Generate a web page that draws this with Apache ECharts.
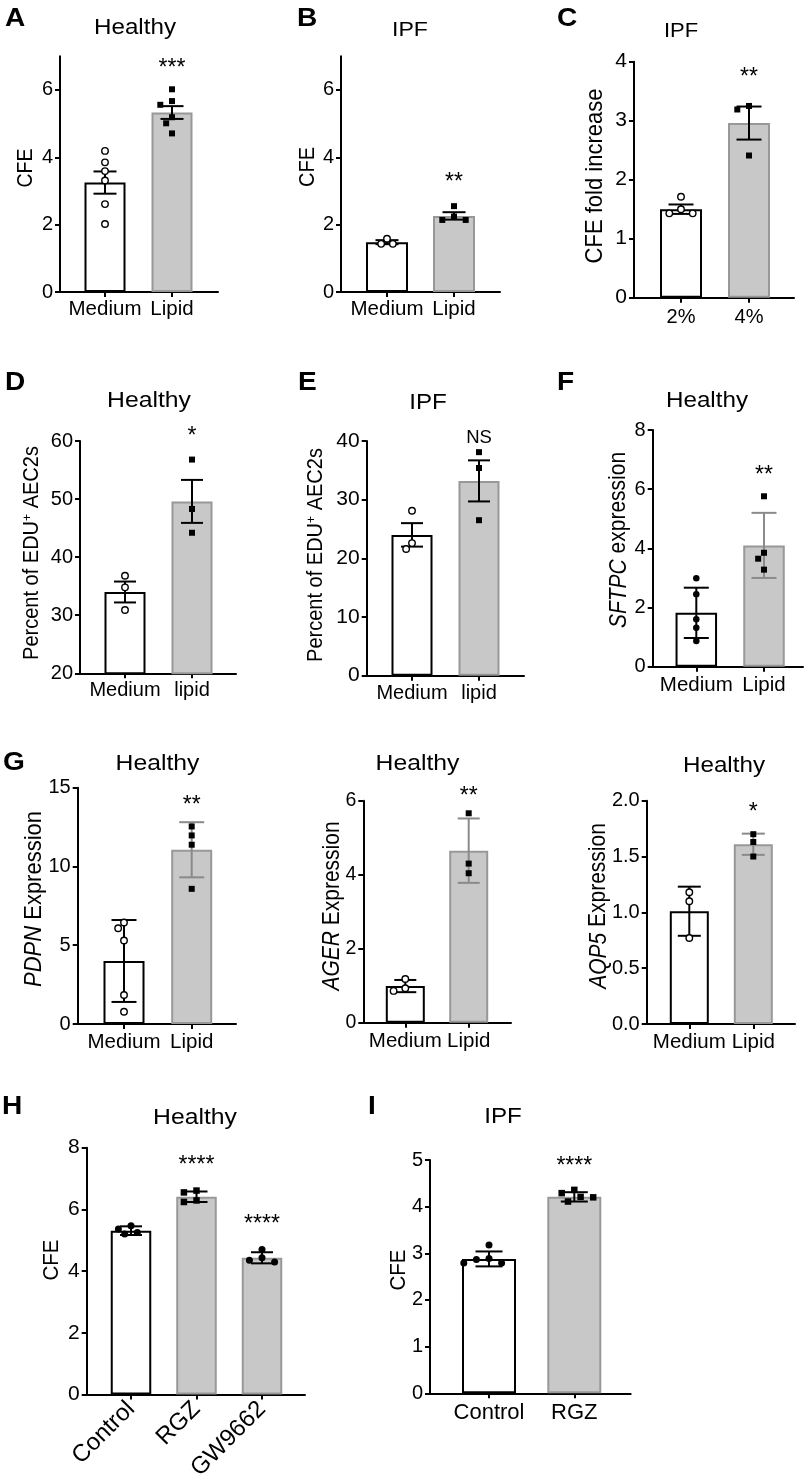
<!DOCTYPE html>
<html>
<head>
<meta charset="utf-8">
<script src="https://cdn.jsdelivr.net/npm/echarts@6/dist/echarts.min.js"></script>
<style>
    html, body { margin: 0; padding: 0; background: #fff; }
    #fig { width: 809px; height: 1483px; }
</style>
</head>
<body>
<div id="fig"></div>
<script>
const FONT = 'Liberation Sans, Arial, Helvetica, sans-serif';

/* A - Healthy CFE */
const aCats = ['Medium', 'Lipid'];
const aTicks = [0, 2, 4, 6];
const aMeans = [3.25, 5.33];
const aErr = [0.33, 0.19];
const aMedium = [4.19, 3.85, 3.59, 3.31, 2.61, 2.02];
const aLipid = [6.02, 5.67, 5.56, 5.19, 5.01, 4.71];

/* B - IPF CFE */
const bCats = ['Medium', 'Lipid'];
const bTicks = [0, 2, 4, 6];
const bMeans = [1.48, 2.26];
const bErr = [0.06, 0.11];
const bMedium = [1.58, 1.43, 1.43];
const bLipid = [2.55, 2.24, 2.14, 2.14];

/* C - IPF CFE fold increase */
const cCats = ['2%', '4%'];
const cTicks = [0, 1, 2, 3, 4];
const cMeans = [1.50, 2.96];
const cErr = [0.08, 0.28];
const c2pct = [1.71, 1.50, 1.43, 1.43];
const c4pct = [3.25, 3.19, 2.41];

/* D - Healthy EDU+ */
const dCats = ['Medium', 'lipid'];
const dTicks = [20, 30, 40, 50, 60];
const dMeans = [34.0, 49.6];
const dErr = [1.8, 3.7];
const dMedium = [36.8, 34.8, 30.9];
const dLipid = [56.8, 48.3, 44.2];

/* E - IPF EDU+ */
const eCats = ['Medium', 'lipid'];
const eTicks = [0, 10, 20, 30, 40];
const eMeans = [24.0, 33.2];
const eErr = [2.0, 3.5];
const eMedium = [28.1, 22.6, 21.6];
const eLipid = [38.1, 35.4, 26.5];

/* F - Healthy SFTPC */
const fCats = ['Medium', 'Lipid'];
const fTicks = [0, 2, 4, 6, 8];
const fMeans = [1.82, 4.10];
const fErr = [0.85, 1.10];
const fMedium = [2.99, 2.45, 1.60, 1.32, 0.87];
const fLipid = [5.76, 3.85, 3.65, 3.28];

/* G - Healthy PDPN / AGER / AQP5 */
const gCats = ['Medium', 'Lipid'];
const g1Ticks = [0, 5, 10, 15];
const g1Means = [4.0, 11.06];
const g1Err = [2.6, 1.75];
const g1Medium = [6.44, 6.08, 5.30, 1.84, 0.78];
const g1Lipid = [12.54, 11.97, 11.38, 8.58];

const g2Ticks = [0, 2, 4, 6];
const g2Means = [0.99, 4.65];
const g2Err = [0.165, 0.87];
const g2Medium = [1.18, 0.93, 0.86];
const g2Lipid = [5.66, 4.30, 4.04];

const g3Ticks = [0, 0.5, 1.0, 1.5, 2.0];
const g3Means = [1.01, 1.61];
const g3Err = [0.22, 0.095];
const g3Medium = [1.18, 1.10, 0.77];
const g3Lipid = [1.70, 1.63, 1.50];

/* H - Healthy CFE, PPARg drugs */
const hCats = ['Control', 'RGZ', 'GW9662'];
const hTicks = [0, 2, 4, 6, 8];
const hMeans = [5.31, 6.41, 4.43];
const hErr = [0.14, 0.17, 0.18];
const hControl = [5.47, 5.36, 5.25, 5.20];
const hRGZ = [6.61, 6.55, 6.29, 6.24];
const hGW = [4.70, 4.43, 4.35, 4.29];

/* I - IPF CFE, RGZ */
const iCats = ['Control', 'RGZ'];
const iTicks = [0, 1, 2, 3, 4, 5];
const iMeans = [2.88, 4.21];
const iErr = [0.16, 0.10];
const iControl = [3.18, 2.89, 2.87, 2.79, 2.79];
const iRGZ = [4.36, 4.29, 4.21, 4.20, 4.11];

/* panels: data + where they sit on the page */
const panels = [
    { cats: aCats, ticks: aTicks, means: aMeans, errs: aErr, groups: [aMedium, aLipid], sig: ['', '***'], marks: ['open', 'rect'],
      lay: { x0: 60, x1: 218, yTop: 56.3, yBot: 292, min: 0, max: 7, c0: 105, sp: 67, barW: 43, sym: 6.5, cap: 23, tfs: 20, lfs: 20.5, lblOff: 17, gap: 26 } },
    { cats: bCats, ticks: bTicks, means: bMeans, errs: bErr, groups: [bMedium, bLipid], sig: ['', '**'], marks: ['open', 'rect'],
      lay: { x0: 341, x1: 500, yTop: 56.3, yBot: 292, min: 0, max: 7, c0: 387, sp: 67, barW: 44, sym: 6.5, cap: 23, tfs: 20, lfs: 20.5, lblOff: 17, gap: 28 } },
    { cats: cCats, ticks: cTicks, means: cMeans, errs: cErr, groups: [c2pct, c4pct], sig: ['', '**'], marks: ['open', 'rect'],
      lay: { x0: 634, x1: 794, yTop: 61.7, yBot: 297.7, min: 0, max: 4, c0: 681, sp: 68, barW: 44, sym: 6.5, cap: 25, tfs: 21, lfs: 20, lblOff: 20, gap: 33 } },
    { cats: dCats, ticks: dTicks, means: dMeans, errs: dErr, groups: [dMedium, dLipid], sig: ['', '*'], marks: ['open', 'rect'],
      lay: { x0: 80, x1: 236, yTop: 441, yBot: 673.3, min: 20, max: 60, c0: 125, sp: 67, barW: 43, sym: 6.5, cap: 22, tfs: 20, lfs: 20, lblOff: 17, gap: 28 } },
    { cats: eCats, ticks: eTicks, means: eMeans, errs: eErr, groups: [eMedium, eLipid], sig: ['', 'NS'], marks: ['open', 'rect'],
      lay: { x0: 366.7, x1: 524, yTop: 441, yBot: 675.7, min: 0, max: 40, c0: 412, sp: 67, barW: 43, sym: 6.5, cap: 22, tfs: 21, lfs: 20, lblOff: 17.5, gap: 14 } },
    { cats: fCats, ticks: fTicks, means: fMeans, errs: fErr, groups: [fMedium, fLipid], sig: ['', '**'], marks: ['dot', 'rect'], grayErr: true,
      lay: { x0: 652.7, x1: 803, yTop: 430, yBot: 666.7, min: 0, max: 8, c0: 696.3, sp: 67.7, barW: 43.5, sym: 6.5, cap: 25, tfs: 20, lfs: 20.5, lblOff: 18, gap: 26 } },
    { cats: gCats, ticks: g1Ticks, means: g1Means, errs: g1Err, groups: [g1Medium, g1Lipid], sig: ['', '**'], marks: ['open', 'rect'], grayErr: true,
      lay: { x0: 77.7, x1: 236, yTop: 787.7, yBot: 1024, min: 0, max: 15, c0: 124, sp: 67.7, barW: 43, sym: 6.5, cap: 25, tfs: 20, lfs: 20.5, lblOff: 18, gap: 22 } },
    { cats: gCats, ticks: g2Ticks, means: g2Means, errs: g2Err, groups: [g2Medium, g2Lipid], sig: ['', '**'], marks: ['open', 'rect'], grayErr: true,
      lay: { x0: 363.3, x1: 511, yTop: 800.7, yBot: 1022.7, min: 0, max: 6, c0: 405.3, sp: 63.4, barW: 41, sym: 6.5, cap: 22, tfs: 19.5, lfs: 20.5, lblOff: 18, gap: 22 } },
    { cats: gCats, ticks: g3Ticks, means: g3Means, errs: g3Err, groups: [g3Medium, g3Lipid], sig: ['', '*'], marks: ['open', 'rect'], grayErr: true, dec: 1,
      lay: { x0: 646.7, x1: 795, yTop: 800.7, yBot: 1024, min: 0, max: 2, c0: 689.3, sp: 64, barW: 41, sym: 6.5, cap: 23, tfs: 20, lfs: 20.5, lblOff: 18, gap: 26 } },
    { cats: hCats, ticks: hTicks, means: hMeans, errs: hErr, groups: [hControl, hRGZ, hGW], sig: ['', '****', '****'], marks: ['dot', 'rect', 'dot'],
      lay: { x0: 86.7, x1: 305, yTop: 1147.7, yBot: 1397.7, min: 0, max: 8, c0: 131, sp: 65.5, barW: 42.5, sym: 7, cap: 22, tfs: 21, lfs: 24, lblOff: 11, rot: 45, gap: 30 } },
    { cats: iCats, ticks: iTicks, means: iMeans, errs: iErr, groups: [iControl, iRGZ], sig: ['', '****'], marks: ['dot', 'rect'],
      lay: { x0: 430, x1: 630.7, yTop: 1160, yBot: 1393.3, min: 0, max: 5, c0: 489, sp: 85.3, barW: 56, sym: 7, cap: 27, tfs: 20, lfs: 22, lblOff: 20, gap: 28 } }
];

/* spread points that would overlap (column scatter) */
function swarm(vals, k, lay) {
    const pxY = (lay.yBot - lay.yTop) / (lay.max - lay.min);
    const placed = [];
    const step = lay.sym * 0.9, thr = lay.sym + 1;
    return vals.map(function (v) {
        const py = v * pxY;
        let dx = 0;
        for (let n = 0; n < 20; n++) {
            const cand = n === 0 ? 0 : (n % 2 ? -1 : 1) * Math.ceil(n / 2) * step;
            if (placed.every(q => Math.hypot(cand - q[0], py - q[1]) >= thr)) { dx = cand; break; }
        }
        placed.push([dx, py]);
        return [k + dx / lay.sp, v];
    });
}

const option = { backgroundColor: '#fff', animation: false, grid: [], xAxis: [], yAxis: [], series: [], graphic: [] };

panels.forEach(function (p, i) {
    const L = p.lay;
    const n = p.cats.length;
    const idx = p.cats.map((c, k) => k);
    option.grid.push({ left: L.x0, top: L.yTop, width: L.x1 - L.x0, height: L.yBot - L.yTop });
    option.xAxis.push({
        type: 'value', gridIndex: i,
        min: -(L.c0 - L.x0) / L.sp,
        max: (n - 1) + (L.x1 - L.c0 - L.sp * (n - 1)) / L.sp,
        splitLine: { show: false },
        axisLine: { show: true, onZero: false, lineStyle: { color: '#000', width: 2 } },
        axisTick: { show: true, customValues: idx, length: 5, lineStyle: { color: '#000', width: 2 } },
        axisLabel: {
            customValues: idx, color: '#000', fontFamily: FONT, fontSize: L.lfs,
            margin: L.rot ? L.lblOff : L.lblOff - L.lfs / 2, rotate: L.rot || 0,
            formatter: v => p.cats[Math.round(v)]
        }
    });
    option.yAxis.push({
        type: 'value', gridIndex: i, min: L.min, max: L.max,
        splitLine: { show: false },
        axisLine: { show: true, onZero: false, lineStyle: { color: '#000', width: 2 } },
        axisTick: { show: true, customValues: p.ticks, length: 5, lineStyle: { color: '#000', width: 2 } },
        axisLabel: {
            customValues: p.ticks, color: '#000', fontFamily: FONT, fontSize: L.tfs, margin: 7,
            formatter: v => p.dec ? v.toFixed(p.dec) : String(v)
        }
    });

    /* bars */
    option.series.push({
        type: 'bar', xAxisIndex: i, yAxisIndex: i, barWidth: L.barW - 2, z: 2,
        data: p.means.map((m, k) => ({
            value: [k, m],
            itemStyle: k === 0
                ? { color: '#fff', borderColor: '#000', borderWidth: 2 }
                : { color: '#c8c8c8', borderColor: '#989898', borderWidth: 2 }
        }))
    });

    /* error bars */
    option.series.push({
        type: 'custom', xAxisIndex: i, yAxisIndex: i, z: 4,
        data: p.means.map((m, k) => [k, m - p.errs[k], m + p.errs[k]]),
        renderItem: function (params, api) {
            const x = api.value(0);
            const lo = api.coord([x, api.value(1)]);
            const hi = api.coord([x, api.value(2)]);
            const col = (p.grayErr && x > 0) ? '#8a8a8a' : '#000';
            const st = { stroke: col, lineWidth: 2 };
            const h = L.cap / 2;
            return {
                type: 'group', children: [
                    { type: 'line', shape: { x1: lo[0], y1: lo[1], x2: hi[0], y2: hi[1] }, style: st },
                    { type: 'line', shape: { x1: hi[0] - h, y1: hi[1], x2: hi[0] + h, y2: hi[1] }, style: st },
                    { type: 'line', shape: { x1: lo[0] - h, y1: lo[1], x2: lo[0] + h, y2: lo[1] }, style: st }
                ]
            };
        }
    });

    /* individual points */
    p.groups.forEach(function (vals, k) {
        const mk = p.marks[k];
        option.series.push({
            type: 'scatter', xAxisIndex: i, yAxisIndex: i, z: 5,
            symbol: mk === 'rect' ? 'rect' : 'circle',
            symbolSize: mk === 'rect' ? L.sym - 0.5 : L.sym,
            itemStyle: mk === 'open'
                ? { color: '#fff', borderColor: '#000', borderWidth: 1.4, opacity: 1 }
                : { color: '#000', opacity: 1 },
            data: swarm(vals, k, L)
        });
    });

    /* significance marks */
    const sigData = [];
    p.sig.forEach(function (s, k) {
        if (!s) return;
        const top = Math.max(p.means[k] + p.errs[k], Math.max.apply(null, p.groups[k]));
        sigData.push([k, top]);
    });
    option.series.push({
        type: 'custom', xAxisIndex: i, yAxisIndex: i, z: 6,
        data: sigData,
        renderItem: function (params, api) {
            const k = api.value(0);
            const pt = api.coord([k, api.value(1)]);
            const s = p.sig[k];
            const star = s.indexOf('*') >= 0;
            return {
                type: 'text', x: pt[0], y: pt[1] - L.gap + (star ? 5 : 0),
                style: {
                    text: s, fill: '#000', fontFamily: FONT, fontSize: star ? 23 : 18.5,
                    align: 'center', verticalAlign: 'middle', textAlign: 'center', textVerticalAlign: 'middle'
                }
            };
        }
    });
});

/* panel letters, titles, y-axis names (text in the figure is a little wide, hence the scale) */
function txt(x, y, s, size, opts) {
    opts = opts || {};
    option.graphic.push({
        type: 'text', x: x, y: y, rotation: opts.rot ? Math.PI / 2 : 0, z: 10,
        scaleX: opts.rot ? 1 : (opts.sx || 1.1),
        scaleY: opts.rot ? (opts.sx || 1.12) : 1,
        style: {
            text: s, fill: '#000', fontFamily: FONT, fontSize: size, fontWeight: opts.bold ? 'bold' : 'normal',
            align: opts.align || 'center', verticalAlign: 'middle',
            textAlign: opts.align || 'center', textVerticalAlign: 'middle',
            rich: opts.rich
        }
    });
}
const letters = [['A', 5, 19], ['B', 297, 19], ['C', 557, 19], ['D', 5, 383], ['E', 298, 383], ['F', 557, 383],
                 ['G', 3, 763], ['H', 2, 1107], ['I', 368, 1107]];
letters.forEach(l => txt(l[1], l[2], l[0], 26, { bold: true, align: 'left', sx: 1.08 }));

const titles = [['Healthy', 135, 27.5, 22], ['IPF', 410, 30, 21], ['IPF', 681, 31.5, 20],
                ['Healthy', 149, 400.5, 22.5], ['IPF', 428, 402.5, 22], ['Healthy', 707, 400.5, 22],
                ['Healthy', 157.5, 764, 22.5], ['Healthy', 417.5, 764, 22.5], ['Healthy', 724, 766, 22],
                ['Healthy', 195, 1118, 22.5], ['IPF', 503, 1117, 22]];
titles.forEach(t => txt(t[1], t[2], t[0], t[3]));

function ital(size) {
    return {
        i: { fontStyle: 'italic', fontFamily: FONT, fontSize: size, fill: '#000' },
        n: { fontFamily: FONT, fontSize: size, fill: '#000' },
        sup: { fontFamily: FONT, fontSize: Math.round(size * 0.6), fill: '#000', verticalAlign: 'top' }
    };
}
txt(26, 168, 'CFE', 19.5, { rot: true });
txt(307.5, 167, 'CFE', 20, { rot: true });
txt(595, 176, 'CFE fold increase', 22, { rot: true });
txt(32, 553, '{n|Percent of EDU}{sup|+}{n| AEC2s}', 20, { rot: true, rich: ital(20) });
txt(316, 555, '{n|Percent of EDU}{sup|+}{n| AEC2s}', 20, { rot: true, rich: ital(20) });
txt(619, 540, '{i|SFTPC}{n| expression}', 21, { rot: true, rich: ital(21) });
txt(34, 899, '{i|PDPN}{n| Expression}', 22, { rot: true, rich: ital(22) });
txt(332.5, 906, '{i|AGER}{n| Expression}', 21, { rot: true, rich: ital(21) });
txt(599, 906, '{i|AQP5}{n| Expression}', 21, { rot: true, rich: ital(21) });
txt(52, 1260, 'CFE', 20.5, { rot: true });
txt(398.5, 1270, 'CFE', 20.5, { rot: true });

const fig = echarts.init(document.getElementById('fig'));
fig.setOption(option);
</script>
</body>
</html>
